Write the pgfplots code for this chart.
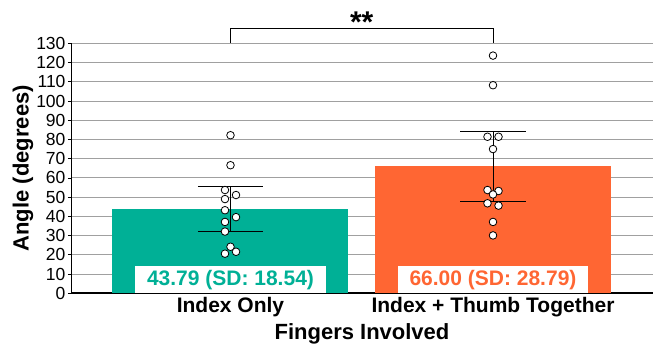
\documentclass[border=0pt]{standalone}
\usepackage{fontspec}
\setmainfont{Liberation Sans}
\usepackage{pgfplots}
\pgfplotsset{compat=1.18}
\definecolor{tealbar}{RGB}{0,176,150}
\definecolor{orangebar}{RGB}{255,102,51}
\definecolor{gridgray}{RGB}{160,160,160}
\begin{document}
\begin{tikzpicture}
\begin{axis}[
  scale only axis,
  width=582pt, height=250pt,
  xmin=-0.6076, xmax=1.6095,
  ymin=0, ymax=130,
  clip=false,
  axis x line*=bottom,
  axis y line*=left,
  x axis line style={line width=2pt, -},
  y axis line style={line width=0.8pt, -},
  xtick={0,1},
  xticklabels={Index Only, Index + Thumb Together},
  x tick style={draw=none},
  xticklabel style={font=\fontsize{21}{24}\selectfont\bfseries, anchor=base, yshift=-16pt},
  ytick={0,10,...,130},
  yticklabel={\fontsize{17.5}{20}\selectfont\pgfmathprintnumber[assume math mode=true]{\tick}},
  tick align=outside,
  major tick length=3pt,
  y tick style={black, line width=0.8pt},
  yticklabel style={xshift=1pt},
  ymajorgrids,
  grid style={gridgray, line width=0.9pt},
  ylabel={Angle (degrees)},
  ylabel style={font=\fontsize{22}{26}\selectfont\bfseries, at={(axis description cs:-0.0825,0.5)}, anchor=center},
  xlabel={Fingers Involved},
  xlabel style={font=\fontsize{22}{26}\selectfont\bfseries, at={(axis description cs:0.5,0)}, anchor=base, yshift=-46.7pt},
]
\addplot[ybar, bar width=236pt, bar shift=0pt, fill=tealbar, draw=none] coordinates {(0,43.79)};
\addplot[ybar, bar width=236pt, bar shift=0pt, fill=orangebar, draw=none] coordinates {(1,66.00)};

% error bars
\addplot[black, line width=1pt] coordinates {(0,32.0) (0,55.5)};
\addplot[black, line width=1pt] coordinates {(1,47.5) (1,84.2)};

% individual points
\addplot[only marks, mark=*, mark size=3.8pt, mark options={fill=white, draw=black, line width=0.8pt}] coordinates {
(0,82.2) (0,66.6) (-0.021,53.7) (0.021,51.1) (-0.021,49.0) (-0.021,43.2)
(0.021,39.6) (-0.021,37.1) (-0.021,32.1) (0,24.2) (-0.021,20.6) (0.021,21.6)
};
\addplot[only marks, mark=*, mark size=3.8pt, mark options={fill=white, draw=black, line width=0.8pt}] coordinates {
(1,123.6) (1,108.2) (0.979,81.4) (1.021,81.4) (1,75.0) (0.979,53.7)
(1.021,53.2) (1,51.4) (0.979,46.8) (1.021,45.6) (1,37.1) (1,30.1)
};

% error bar caps
\addplot[black, line width=1pt] coordinates {(-0.124,55.5) (0.124,55.5)};
\addplot[black, line width=1pt] coordinates {(-0.124,32.0) (0.124,32.0)};
\addplot[black, line width=1pt] coordinates {(0.876,84.2) (1.124,84.2)};
\addplot[black, line width=1pt] coordinates {(0.876,47.5) (1.124,47.5)};

% significance bracket
\addplot[black, line width=0.8pt] coordinates {(0,130) (0,137.8) (1,137.8) (1,130)};
\node[font=\fontsize{30}{34}\selectfont\bfseries, anchor=base] at (axis cs:0.5,135.8) {**};

% value labels
\node[fill=white, anchor=south, inner xsep=12pt, inner ysep=3.3pt, text height=15.5pt, text depth=4.5pt,
      font=\fontsize{21}{24}\selectfont\bfseries, text=tealbar] at (axis cs:0,0) {43.79 (SD: 18.54)};
\node[fill=white, anchor=south, inner xsep=12pt, inner ysep=3.3pt, text height=15.5pt, text depth=4.5pt,
      font=\fontsize{21}{24}\selectfont\bfseries, text=orangebar] at (axis cs:1,0) {66.00 (SD: 28.79)};
\end{axis}
\path ([shift={(-71pt,-51.7pt)}]current axis.south west) rectangle ([shift={(1pt,43.3pt)}]current axis.north east);
\end{tikzpicture}
\end{document}
